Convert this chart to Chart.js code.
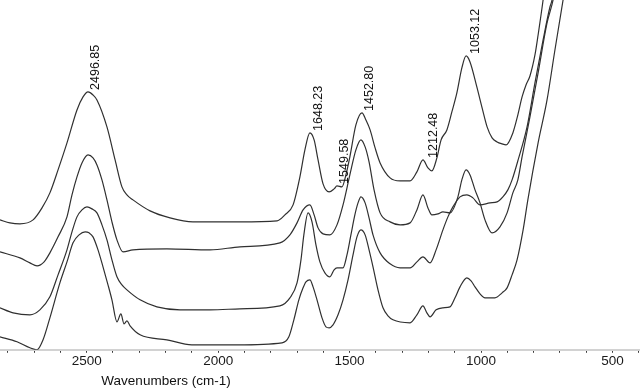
<!DOCTYPE html>
<html>
<head>
<meta charset="utf-8">
<title>FTIR</title>
<script src="https://cdn.jsdelivr.net/npm/chart.js@4.4.0/dist/chart.umd.min.js"></script>
<style>
  body { margin: 0; background: #fff; }
  canvas { display: block; }
</style>
</head>
<body>
<canvas id="CHARTFTIR" width="640" height="389"></canvas>
<script>
// wavenumbers (cm-1) and absorbance, one pair of arrays per spectrum, top to bottom
const waveA = [2830, 2792, 2754, 2704, 2670, 2640, 2609, 2575, 2537, 2514, 2495, 2476, 2461, 2423, 2392, 2366, 2347, 2324, 2259, 2183, 2096, 1917, 1776, 1746, 1715, 1689, 1670, 1651, 1635, 1620, 1601, 1578, 1559, 1548, 1529, 1514, 1499, 1476, 1453, 1438, 1422, 1403, 1384, 1346, 1308, 1270, 1244, 1221, 1202, 1187, 1168, 1152, 1130, 1111, 1092, 1073, 1057, 1042, 1016, 996, 977, 958, 939, 920, 905, 879, 860, 844, 829, 814, 795, 783, 764, 745];
const absA = [1.30, 1.27, 1.26, 1.30, 1.42, 1.57, 1.80, 2.07, 2.40, 2.53, 2.58, 2.55, 2.50, 2.23, 1.90, 1.63, 1.55, 1.50, 1.39, 1.32, 1.28, 1.28, 1.29, 1.35, 1.45, 1.73, 2.00, 2.17, 2.10, 1.90, 1.66, 1.58, 1.61, 1.64, 1.63, 1.75, 1.93, 2.25, 2.37, 2.30, 2.20, 2.02, 1.87, 1.72, 1.69, 1.69, 1.78, 1.90, 1.82, 1.79, 1.92, 2.10, 2.20, 2.38, 2.57, 2.82, 2.94, 2.88, 2.63, 2.42, 2.23, 2.12, 2.08, 2.06, 2.05, 2.17, 2.35, 2.53, 2.65, 2.74, 2.95, 3.15, 3.50, 3.90];

const waveB = [2830, 2754, 2716, 2689, 2662, 2640, 2609, 2575, 2556, 2537, 2518, 2495, 2476, 2461, 2442, 2423, 2404, 2385, 2362, 2324, 2195, 2031, 1917, 1765, 1727, 1700, 1677, 1651, 1635, 1620, 1601, 1575, 1548, 1525, 1499, 1476, 1457, 1441, 1426, 1407, 1384, 1346, 1308, 1270, 1244, 1221, 1202, 1187, 1164, 1145, 1118, 1088, 1073, 1057, 1042, 1023, 1004, 985, 958, 928, 901, 879, 860, 844, 814, 783, 749, 726, 700];
const absB = [0.98, 0.92, 0.87, 0.84, 0.88, 0.97, 1.13, 1.33, 1.55, 1.73, 1.87, 1.95, 1.92, 1.85, 1.70, 1.50, 1.28, 1.10, 0.98, 1.00, 1.01, 1.00, 1.03, 1.07, 1.15, 1.27, 1.40, 1.45, 1.35, 1.22, 1.16, 1.15, 1.25, 1.45, 1.75, 2.00, 2.10, 2.03, 1.88, 1.60, 1.37, 1.28, 1.25, 1.27, 1.40, 1.55, 1.42, 1.35, 1.36, 1.38, 1.37, 1.53, 1.70, 1.80, 1.75, 1.60, 1.47, 1.30, 1.17, 1.23, 1.37, 1.57, 1.70, 1.93, 2.33, 2.77, 3.27, 3.50, 3.90];

const waveC = [2830, 2780, 2716, 2678, 2640, 2609, 2575, 2556, 2537, 2518, 2499, 2480, 2461, 2442, 2423, 2404, 2385, 2366, 2347, 2297, 2233, 2145, 2031, 1917, 1765, 1727, 1700, 1685, 1674, 1658, 1643, 1628, 1613, 1594, 1575, 1559, 1548, 1525, 1510, 1495, 1480, 1468, 1457, 1441, 1426, 1411, 1384, 1346, 1308, 1270, 1244, 1221, 1194, 1171, 1145, 1126, 1107, 1080, 1054, 1031, 1004, 966, 939, 917, 898, 882, 859, 825, 795, 764, 738, 730, 707];
const absC = [0.42, 0.37, 0.35, 0.40, 0.53, 0.75, 1.00, 1.18, 1.33, 1.40, 1.43, 1.41, 1.37, 1.25, 1.10, 0.90, 0.73, 0.65, 0.60, 0.50, 0.43, 0.40, 0.40, 0.41, 0.44, 0.52, 0.67, 0.90, 1.15, 1.37, 1.28, 1.05, 0.88, 0.77, 0.73, 0.80, 0.82, 0.82, 0.95, 1.15, 1.35, 1.47, 1.53, 1.47, 1.32, 1.15, 0.97, 0.86, 0.82, 0.82, 0.88, 0.93, 0.87, 1.00, 1.20, 1.33, 1.43, 1.53, 1.55, 1.52, 1.45, 1.47, 1.48, 1.53, 1.60, 1.70, 1.90, 2.23, 2.67, 3.10, 3.43, 3.50, 3.90];

const waveD = [2830, 2765, 2716, 2689, 2666, 2640, 2602, 2575, 2552, 2529, 2506, 2491, 2476, 2457, 2438, 2419, 2404, 2385, 2370, 2358, 2347, 2335, 2297, 2195, 2100, 1928, 1757, 1731, 1712, 1693, 1677, 1666, 1651, 1639, 1624, 1605, 1590, 1578, 1563, 1544, 1525, 1506, 1487, 1472, 1457, 1441, 1426, 1411, 1392, 1373, 1354, 1335, 1270, 1244, 1221, 1206, 1194, 1171, 1145, 1118, 1099, 1080, 1054, 1038, 1023, 1004, 985, 947, 920, 901, 882, 863, 840, 822, 783, 749, 719, 688, 662];
const absD = [0.13, 0.08, 0.02, 0.00, 0.10, 0.32, 0.67, 0.88, 1.07, 1.15, 1.18, 1.17, 1.13, 1.00, 0.83, 0.65, 0.50, 0.28, 0.36, 0.26, 0.29, 0.24, 0.15, 0.10, 0.05, 0.05, 0.07, 0.13, 0.30, 0.50, 0.62, 0.68, 0.70, 0.63, 0.50, 0.32, 0.23, 0.22, 0.25, 0.35, 0.50, 0.70, 0.95, 1.13, 1.20, 1.15, 1.00, 0.83, 0.60, 0.42, 0.34, 0.30, 0.27, 0.35, 0.44, 0.37, 0.33, 0.40, 0.42, 0.43, 0.52, 0.63, 0.72, 0.69, 0.63, 0.56, 0.52, 0.52, 0.57, 0.62, 0.75, 0.90, 1.20, 1.50, 2.07, 2.50, 3.00, 3.50, 3.90];

// peak labels on the top spectrum
const peakWaves = [2496.85, 1648.23, 1549.58, 1452.80, 1212.48, 1053.12];
const peakLabels = ['2496.85', '1648.23', '1549.58', '1452.80', '1212.48', '1053.12'];

// x axis: a tick every 100, a label every 500
const tickMarks = [400, 500, 600, 700, 800, 900, 1000, 1100, 1200, 1300, 1400, 1500, 1600, 1700, 1800, 1900, 2000, 2100, 2200, 2300, 2400, 2500, 2600, 2700, 2800];
const tickLabels = [2500, 2000, 1500, 1000, 500];

const FONT = '"Liberation Sans", Arial, sans-serif';

function toPoints(w, a) {
  return w.map((x, i) => ({ x: x, y: a[i] }));
}

function spectrum(w, a) {
  return {
    data: toPoints(w, a),
    borderColor: '#303030',
    borderWidth: 1.2,
    pointRadius: 0,
    fill: false,
    cubicInterpolationMode: 'monotone'
  };
}

const peakText = {
  id: 'peakText',
  afterDatasetsDraw(chart) {
    const c = chart.ctx;
    const xs = chart.scales.x;
    const ys = chart.scales.y;
    c.save();
    c.fillStyle = '#111';
    c.font = '12.5px ' + FONT;
    c.textAlign = 'left';
    c.textBaseline = 'middle';
    peakWaves.forEach((w, i) => {
      // highest point of the top spectrum near the labelled wavenumber
      let top = -Infinity;
      waveA.forEach((x, j) => {
        if (Math.abs(x - w) <= 12 && absA[j] > top) top = absA[j];
      });
      const px = xs.getPixelForValue(w) + 8;
      const py = ys.getPixelForValue(top) - 2;
      c.save();
      c.translate(px, py);
      c.rotate(-Math.PI / 2);
      c.fillText(peakLabels[i], 0, 0);
      c.restore();
    });
    // axis title sits left of centre in the original
    c.font = '13.5px ' + FONT;
    c.textAlign = 'center';
    c.fillText('Wavenumbers (cm-1)', 166, 381.5);
    c.restore();
  }
};

const ctx = document.getElementById('CHARTFTIR');

new Chart(ctx, {
  type: 'line',
  data: {
    datasets: [
      spectrum(waveA, absA),
      spectrum(waveB, absB),
      spectrum(waveC, absC),
      spectrum(waveD, absD)
    ]
  },
  options: {
    responsive: false,
    animation: false,
    devicePixelRatio: 1,
    layout: { padding: { left: 0, right: 0, top: 0, bottom: 20 } },
    plugins: {
      legend: { display: false },
      tooltip: { enabled: false }
    },
    scales: {
      x: {
        type: 'linear',
        reverse: true,
        min: 395.4,
        max: 2829.8,
        afterBuildTicks: (scale) => {
          scale.ticks = tickMarks.map(v => ({ value: v }));
        },
        ticks: {
          autoSkip: false,
          maxRotation: 0,
          minRotation: 0,
          padding: 0,
          color: '#1a1a1a',
          font: { family: FONT, size: 13.5 },
          callback: (v) => tickLabels.includes(v) ? String(v) : ''
        },
        grid: {
          drawOnChartArea: false,
          drawTicks: true,
          tickLength: 3,
          color: '#3a3a3a'
        },
        border: { color: '#d2d2d2', width: 2 }
      },
      y: {
        display: false,
        min: 0,
        max: 3.5
      }
    }
  },
  plugins: [peakText]
});
</script>
</body>
</html>
